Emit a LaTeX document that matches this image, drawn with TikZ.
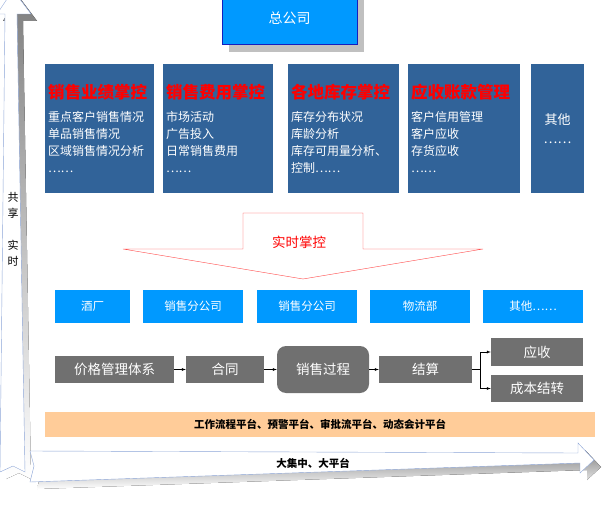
\documentclass[tikz,border=0pt]{standalone}
\usepackage{fontspec}
\setmainfont{Noto Sans CJK SC}
\usetikzlibrary{shadows}
\definecolor{deepblue}{RGB}{49,99,153}
\definecolor{skyblue}{RGB}{0,153,255}
\definecolor{hqedge}{RGB}{20,30,190}
\definecolor{flowgray}{RGB}{112,112,112}
\definecolor{peach}{RGB}{255,204,153}
\definecolor{arrowedge}{RGB}{140,165,215}
\definecolor{shade}{RGB}{192,192,192}
\definecolor{ctrlred}{RGB}{255,60,60}
\newcommand{\boxtitle}[1]{{\fontsize{16.5}{20}\selectfont\bfseries\color{red}#1}}

\begin{document}
\begin{tikzpicture}[x=1pt,y=-1pt,
		topbox/.style={fill=deepblue,text=white,minimum height=129pt,inner xsep=3pt,inner ysep=0pt,align=left,font=\fontsize{12}{17}\selectfont},
		unitbox/.style={fill=skyblue,text=white,minimum height=33pt,inner sep=0pt,font=\fontsize{11.5}{14}\selectfont},
		flowbox/.style={fill=flowgray,text=white,minimum height=27pt,inner sep=0pt,font=\fontsize{13.5}{16}\selectfont}]
		\useasboundingbox (0,0) rectangle (602,505);
		\clip (0,0) rectangle (602,505);
		% side and bottom arrows
		\fill[shade,shift={(6,7)}] (13,-10) -- (31,14) -- (17,14) -- (25,472) -- (13,466) -- (0,472) -- (5,14) -- (-3,14) -- cycle;
		\draw[arrowedge,fill=white] (13,-10) -- (31,14) -- (17,14) -- (25,472) -- (13,466) -- (0,472) -- (5,14) -- (-3,14) -- cycle;
		\fill[shade,shift={(7,7)}] (30,451) -- (578,453) -- (578,443) -- (594,460) -- (580,473) -- (580,463) -- (30,482) -- (34,466) -- cycle;
		\draw[arrowedge,fill=white] (30,451) -- (578,453) -- (578,443) -- (594,460) -- (580,473) -- (580,463) -- (30,482) -- (34,466) -- cycle;
		\node[font=\fontsize{11}{16}\selectfont,align=center] (share) at (13,229) {共\\享\\[16pt]实\\时};
		\node[font=\fontsize{10.5}{12}\selectfont\bfseries] (hub) at (313,463) {大集中、大平台};

		% head office
		\node[fill=skyblue,draw=hqedge,text=white,minimum width=135pt,minimum height=52pt,font=\fontsize{14}{16}\selectfont,
			drop shadow={shadow xshift=7pt,shadow yshift=-8pt,fill=shade,opacity=1}] (hq) at (289.5,18) {总公司};

		% control areas
		\node[topbox,text width=103pt] (perf) at (99.5,128.5) {\boxtitle{销售业绩掌控}\\[6pt]重点客户销售情况\\单品销售情况\\区域销售情况分析\\……};
		\node[topbox,text width=104pt] (cost) at (218,128.5) {\boxtitle{销售费用掌控}\\[6pt]市场活动\\广告投入\\日常销售费用\\……};
		\node[topbox,text width=105pt] (stock) at (343.5,128.5) {\boxtitle{各地库存掌控}\\[6pt]库存分布状况\\库龄分析\\库存可用量分析、\\控制……};
		\node[topbox,text width=106pt] (debt) at (464,128.5) {\boxtitle{应收账款管理}\\[6pt]客户信用管理\\客户应收\\存货应收\\……};
		\node[topbox,text width=47pt,align=center,font=\fontsize{13}{19}\selectfont] (other) at (557.5,128.5) {其他\\……};

		% real time control
		\draw[ctrlred,fill=white] (243,213) -- (363,213) -- (363,249) -- (483,249) -- (303,279) -- (123,249) -- (243,249) -- cycle;
		\node[text=red,font=\fontsize{13.5}{16}\selectfont] (ctrl) at (299,242) {实时掌控};

		% units
		\node[unitbox,minimum width=75pt] (winery) at (92.5,306.5) {酒厂};
		\node[unitbox,minimum width=100pt] (branchA) at (193,306.5) {销售分公司};
		\node[unitbox,minimum width=100pt] (branchB) at (307,306.5) {销售分公司};
		\node[unitbox,minimum width=100pt] (logistics) at (420,306.5) {物流部};
		\node[unitbox,minimum width=100pt] (others) at (533,306.5) {其他……};

		% sales flow
		\node[flowbox,minimum width=119pt] (price) at (114.5,369.5) {价格管理体系};
		\node[flowbox,minimum width=78pt] (contract) at (225,369.5) {合同};
		\node[flowbox,minimum width=92pt,minimum height=47pt,rounded corners=9pt] (sales) at (323,369.5) {销售过程};
		\node[flowbox,minimum width=93pt] (settle) at (425.5,369.5) {结算};
		\node[flowbox,minimum width=92pt,minimum height=28pt] (recv) at (537,352) {应收};
		\node[flowbox,minimum width=92pt] (carry) at (537,388.5) {成本结转};
		\draw[-latex] (price) -- (contract);
		\draw[-latex] (contract) -- (sales);
		\draw[-latex] (sales) -- (settle);
		\draw (settle.east) -- ++(8,0) coordinate (fork);
		\draw[-latex] (fork) |- (recv.west);
		\draw[-latex] (fork) |- (carry.west);

		% platform
		\node[fill=peach,minimum width=550pt,minimum height=25pt,inner sep=0pt,font=\fontsize{10.5}{12}\selectfont\bfseries] (platform) at (320,424.5) {工作流程平台、预警平台、审批流平台、动态会计平台};
	\end{tikzpicture}
\end{document}
